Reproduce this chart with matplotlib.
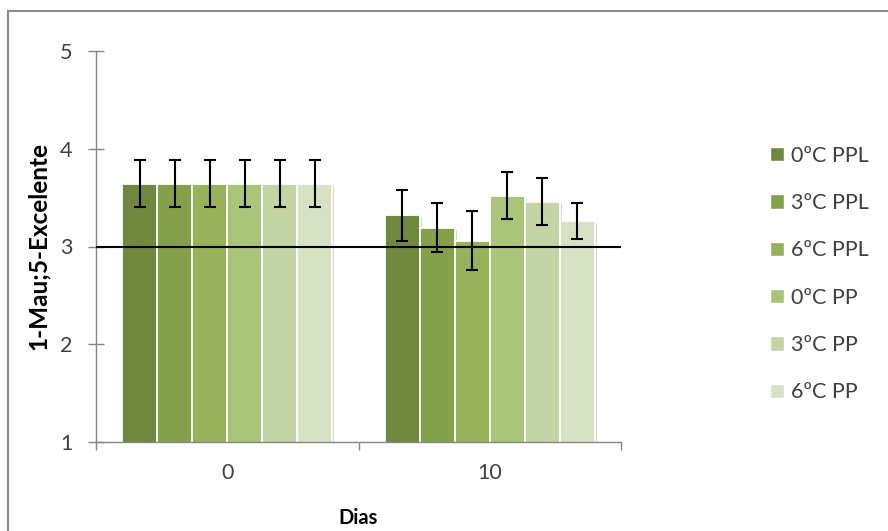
import matplotlib
matplotlib.use("Agg")
import matplotlib.pyplot as plt
import matplotlib.patheffects as pe
from matplotlib.patches import Rectangle, Patch
import numpy as np

plt.rcParams['font.family'] = ['Lato', 'DejaVu Sans']

# Data
days = ["0", "10"]
series = ["0ºC PPL", "3ºC PPL", "6ºC PPL", "0ºC PP", "3ºC PP", "6ºC PP"]
means = [
    [3.64, 3.32],   # 0ºC PPL
    [3.64, 3.19],   # 3ºC PPL
    [3.64, 3.06],   # 6ºC PPL
    [3.64, 3.52],   # 0ºC PP
    [3.64, 3.46],   # 3ºC PP
    [3.64, 3.26],   # 6ºC PP
]
errors = [
    [0.24, 0.26],
    [0.24, 0.25],
    [0.24, 0.30],
    [0.24, 0.24],
    [0.24, 0.24],
    [0.24, 0.18],
]
threshold = 3.0
colors = ["#71883F", "#85A04B", "#97B259", "#AAC47A", "#C3D4A5", "#D7E2C4"]

W, H = 888, 531
fig = plt.figure(figsize=(W / 100, H / 100), dpi=100)
ax = fig.add_axes([96 / W, (H - 442) / H, (621 - 96) / W, (442 - 51) / H])

x = np.arange(len(days))
n = len(series)
bw = 0.8 / n
shadow = [pe.SimplePatchShadow(offset=(1.5, -1.5), shadow_rgbFace="#bdbdbd", alpha=0.6), pe.Normal()]
for i in range(n):
    pos = x - 0.4 + bw * (i + 0.5)
    bars = ax.bar(pos, means[i], width=bw, bottom=0, color=colors[i],
                  edgecolor="white", linewidth=1.3, zorder=2, label=series[i])
    for b in bars:
        b.set_path_effects(shadow)
    ax.errorbar(pos, means[i], yerr=errors[i], fmt="none", ecolor="black",
                elinewidth=1.5, capsize=4.5, capthick=1.5, zorder=4)

ax.axhline(threshold, color="black", linewidth=1.5, zorder=5)

ax.set_ylim(1, 5)
ax.set_xlim(-0.5, 1.5)
ax.set_yticks([1, 2, 3, 4, 5])
ax.set_xticks(x)
ax.set_xticklabels(days)
ax.set_xticks([-0.5, 0.5, 1.5], minor=True)
ax.tick_params(axis="x", which="major", length=0, pad=15, labelsize=15.5, colors="#404040")
ax.tick_params(axis="x", which="minor", length=6, direction="out", color="#868686", width=1)
ax.tick_params(axis="y", which="major", length=12, direction="inout", color="#868686",
               width=1, labelsize=15.5, pad=11, colors="#404040")
for s in ["top", "right"]:
    ax.spines[s].set_visible(False)
for s in ["left", "bottom"]:
    ax.spines[s].set_color("#868686")
    ax.spines[s].set_linewidth(1)

ax.set_ylabel("1-Mau;5-Excelente", fontsize=17.5, fontweight="bold")
ax.yaxis.set_label_coords(38 / (621 - 96) - 96 / (621 - 96), 0.5)
ax.set_xlabel("Dias", fontsize=14.5, fontweight="bold")
ax.xaxis.set_label_coords(0.5, -(518 - 442) / (442 - 51))
ax.xaxis.label.set_va("center")
ax.yaxis.label.set_va("center")

handles = [Patch(facecolor=c, edgecolor="white") for c in colors]
fig.legend(handles, series, loc="center left", bbox_to_anchor=(751 / W, 1 - 274 / H),
           frameon=False, fontsize=15.5, handlelength=0.65, handleheight=0.65,
           handletextpad=0.3, labelspacing=1.27, labelcolor="#404040")

# chart border
fig.add_artist(Rectangle((8 / W, -0.05), 1.0, 1 - 11 / H + 0.05, transform=fig.transFigure,
                         fill=False, edgecolor="#8c8c8c", linewidth=1.5))

fig.savefig("out.png", dpi=100, facecolor="white")
